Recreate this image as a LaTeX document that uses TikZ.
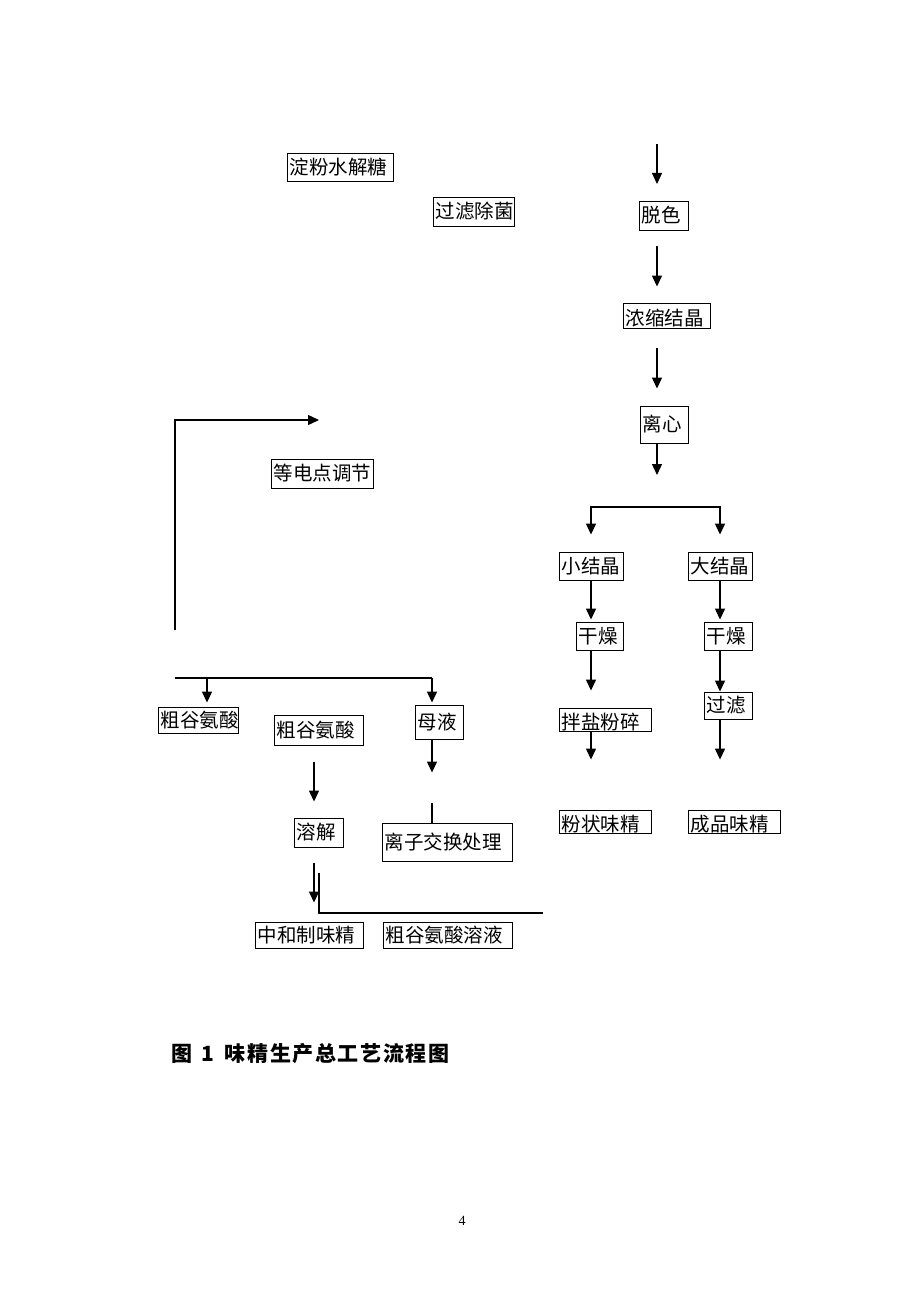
\documentclass[tikz,border=0pt]{standalone}
\usepackage{fontspec}
\newfontfamily\cjk{Noto Sans CJK SC}
\setmainfont{Liberation Serif}
\usetikzlibrary{arrows.meta}
\tikzset{
  box/.style={draw, line width=0.9pt, inner sep=0pt, align=left, font=\cjk\fontsize{19.5}{21}\selectfont},
  lowtext/.style={text height=20pt, text depth=0pt},
  arr/.style={line width=1.3pt, -{Triangle[length=11pt,width=10pt]}},
  ln/.style={line width=1.3pt},
}
\newcommand\bx[7][]{\node[box,#1,text width={#5-#3-5},minimum width={#5-#3},minimum height={#6-#4}] (#2) at ({(#3+#5)/2},{(#4+#6)/2}) {#7};}
\newcommand\gp{\hspace{1.6pt}}
\begin{document}
\begin{tikzpicture}[x=1pt,y=-1pt]
\fill[white] (0,0) rectangle (920,1300);
\useasboundingbox (0,0) rectangle (920,1300);
% boxes
\bx{dianfen}{287}{153}{393}{181}{淀粉水解糖}
\bx{guolv}{433}{197}{514}{226}{过滤除菌}
\bx{tuose}{639}{201}{688}{230}{脱色}
\bx[lowtext]{nongsuo}{623}{303}{710}{328}{浓缩结晶}
\bx{lixin}{640}{406}{688}{443}{离心}
\bx{xiao}{559}{552}{623}{580}{小结晶}
\bx{da}{688}{552}{752}{580}{大结晶}
\bx{ganL}{576}{622}{623}{650}{干燥}
\bx{ganR}{704}{622}{752}{650}{干燥}
\bx[lowtext]{banyan}{559}{708}{651}{731}{拌盐粉碎}
\bx{guolvb}{704}{692}{752}{719}{过滤}
\bx[lowtext]{fenzhuang}{559}{810}{651}{833}{粉状味精}
\bx[lowtext]{chengpin}{688}{810}{780}{833}{成品味精}
\bx{dengdian}{271}{459}{373}{488}{等电点调节}
\bx{cgsa}{158}{707}{238}{733}{粗谷氨酸}
\bx{cgsb}{274}{715}{363}{745}{粗谷氨酸}
\bx{muye}{415}{705}{463}{739}{母液}
\bx{lizi}{382}{823}{512}{861}{离子交换处理}
\bx{rongjie}{294}{818}{343}{847}{溶解}
\bx{zhonghe}{255}{922}{363}{948}{中和制味精}
\bx{cgsry}{383}{922}{512}{948}{粗谷氨酸溶液}
% coordinates
\coordinate (colR) at (657,0);
\coordinate (topA) at (657,144);
\coordinate (topB) at (657,184);
\coordinate (split) at (657,507);
\coordinate (colL) at (314,0);
\coordinate (Lbot) at (175,630);
\coordinate (Lcorner) at (175,420);
\coordinate (Ltip) at (319,420);
\coordinate (hl) at (175,678);
\coordinate (d1) at (207,678);
\coordinate (hr) at (432,678);
\coordinate (jtop) at (319,873);
\coordinate (jcorner) at (319,913);
\coordinate (jend) at (543,913);
% right column
\draw[arr] (topA) -- (topB);
\draw[arr, shorten <=16pt, shorten >=16pt] (tuose.south -| colR) -- (nongsuo.north -| colR);
\draw[arr, shorten <=20pt, shorten >=17pt] (nongsuo.south -| colR) -- (lixin.north -| colR);
\draw[arr, shorten >=32pt] (lixin.south -| colR) -- (split);
\draw[arr, shorten >=17pt] (split) -| (xiao.north);
\draw[arr, shorten >=17pt] (split) -| (da.north);
\draw[arr, shorten >=2pt] (xiao.south) -- (ganL.north -| xiao.south);
\draw[arr, shorten >=17pt] (ganL.south -| xiao.south) -- (banyan.north -| xiao.south);
\draw[arr, shorten >=50pt] (banyan.south -| xiao.south) -- (fenzhuang.north -| xiao.south);
\draw[arr, shorten >=2pt] (da.south) -- (ganR.north -| da.south);
\draw[arr] (ganR.south -| da.south) -- (guolvb.north -| da.south);
\draw[arr, shorten >=50pt] (guolvb.south -| da.south) -- (chengpin.north -| da.south);
% left part
\draw[arr] (Lbot) -- (Lcorner) -- (Ltip);
\draw[ln] (hl) -- (hr);
\draw[arr, shorten >=4pt] (d1) -- (d1 |- cgsa.north);
\draw[arr, shorten >=2pt] (hr) -- (hr |- muye.north);
\draw[arr, shorten >=50pt] (muye.south -| hr) -- (lizi.north -| hr);
\draw[ln] (lizi.north -| hr) -- ++(0,-20);
\draw[arr, shorten <=17pt, shorten >=16pt] (cgsb.south -| colL) -- (rongjie.north -| colL);
\draw[arr, shorten <=16pt, shorten >=19pt] (rongjie.south -| colL) -- (zhonghe.north -| colL);
\draw[ln] (jtop) -- (jcorner) -- (jend);
% caption
\node[anchor=west, font=\cjk\bfseries\fontsize{21}{23}\selectfont, inner sep=0pt] (caption) at (171,1054) {图\hspace{9pt}1\hspace{11pt}味\gp 精\gp 生\gp 产\gp 总\gp 工\gp 艺\gp 流\gp 程\gp 图};
\node[font=\fontsize{14}{16}\selectfont, inner sep=0pt] (pagenum) at (462,1221) {4};
\end{tikzpicture}
\end{document}
